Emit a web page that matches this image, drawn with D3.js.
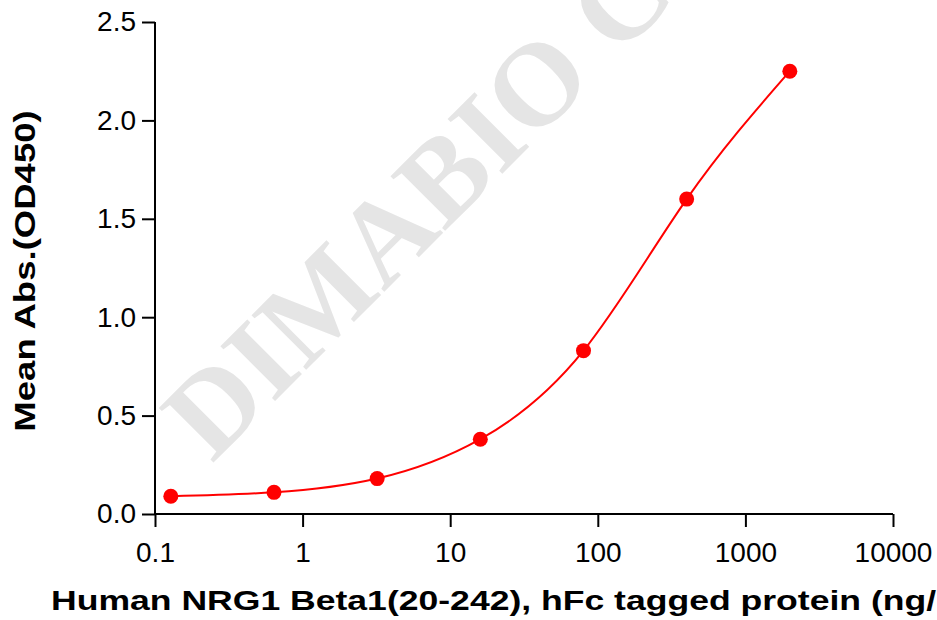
<!DOCTYPE html>
<html>
<head>
<meta charset="utf-8">
<script src="https://cdn.jsdelivr.net/npm/d3@7"></script>
<style>
  body { margin: 0; background: #fff; }
  svg { display: block; font-family: "Liberation Sans", Arial, sans-serif; }
</style>
</head>
<body>
<div class="canvas"></div>
<script>
// concentration (ng/mL) and mean OD450
const conc = [0.128, 0.64, 3.2, 16, 80, 400, 2000]
const od = [0.09, 0.11, 0.18, 0.38, 0.83, 1.60, 2.25]
const xTicks = [0.1, 1, 10, 100, 1000, 10000]
const yTicks = [0, 0.5, 1.0, 1.5, 2.0, 2.5]

const dims = {width: 937, height: 620}
const m = {left: 155, right: 44, top: 22, bottom: 106}

const svg = d3.select('.canvas')
    .append('svg')
    .attr('width', dims.width)
    .attr('height', dims.height)

// watermark
svg.append('text')
    .attr('transform', 'translate(212,464) rotate(-45)')
    .attr('font-family', '"Liberation Serif", "DejaVu Serif", serif')
    .attr('font-weight', 'bold')
    .attr('font-size', 118)
    .attr('fill', '#e5e5e5')
    .text('DIMABIO COPYRIGHT')

const x = d3.scaleLog()
    .domain([0.1, 10000])
    .range([m.left, dims.width - m.right])

const y = d3.scaleLinear()
    .domain([0, 2.5])
    .range([dims.height - m.bottom, m.top])

const xAxis = d3.axisBottom(x)
    .tickValues(xTicks)
    .tickFormat(d => String(d))
    .tickSize(13)
    .tickPadding(15)

const yAxis = d3.axisLeft(y)
    .tickValues(yTicks)
    .tickFormat(d3.format('.1f'))
    .tickSize(13)
    .tickPadding(6)

const gx = svg.append('g')
    .attr('transform', `translate(0,${dims.height - m.bottom})`)
    .call(xAxis)

const gy = svg.append('g')
    .attr('transform', `translate(${m.left},0)`)
    .call(yAxis)

;[gx, gy].forEach(g => {
    g.select('.domain').attr('stroke', '#000').attr('stroke-width', 2)
    g.selectAll('.tick line').attr('stroke', '#000').attr('stroke-width', 2)
    g.selectAll('text')
        .attr('font-family', '"Liberation Sans", Arial, sans-serif')
        .attr('font-size', 28)
        .attr('fill', '#000')
})
gx.select('.domain').attr('d', `M${m.left},0H${dims.width - m.right}`)
gy.select('.domain').attr('d', `M0,${m.top}V${dims.height - m.bottom}`)

const pts = conc.map((c, i) => ({c: c, v: od[i]}))

const line = d3.line()
    .x(d => x(d.c))
    .y(d => y(d.v))
    .curve(d3.curveNatural)

svg.append('path')
    .datum(pts)
    .attr('d', line)
    .attr('fill', 'none')
    .attr('stroke', '#ff0000')
    .attr('stroke-width', 2)

svg.selectAll('circle')
    .data(pts)
    .enter()
    .append('circle')
    .attr('cx', d => x(d.c))
    .attr('cy', d => y(d.v))
    .attr('r', 7.5)
    .attr('fill', '#ff0000')

// titles are stretched wide in the original export
svg.append('text')
    .attr('transform', 'translate(51,610) scale(1.27,1)')
    .attr('font-weight', 'bold')
    .attr('font-size', 28)
    .text('Human NRG1 Beta1(20-242), hFc tagged protein (ng/mL)')

svg.append('text')
    .attr('transform', 'translate(35,271) rotate(-90) scale(1.26,1)')
    .attr('text-anchor', 'middle')
    .attr('font-weight', 'bold')
    .attr('font-size', 29)
    .text('Mean Abs.(OD450)')
</script>
</body>
</html>
